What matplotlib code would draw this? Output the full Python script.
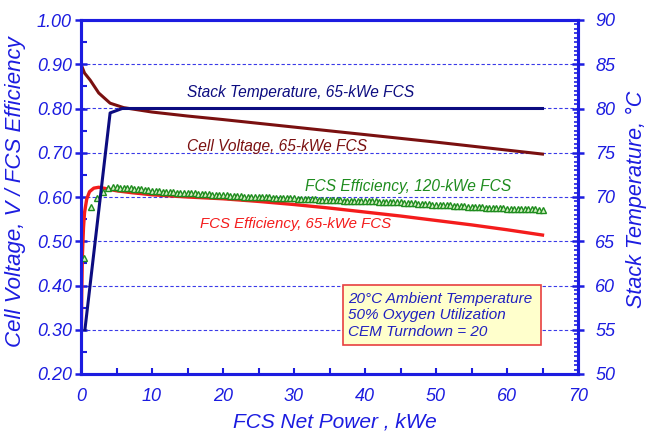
import matplotlib.pyplot as plt
from matplotlib.patches import Rectangle
from matplotlib.ticker import MultipleLocator
import numpy as np

plt.rcParams['font.family'] = ['Liberation Sans', 'DejaVu Sans']
plt.rcParams['font.style'] = 'italic'

BLUE = '#1c1ce0'

# stack temperature, 65-kWe FCS (right axis, degC)
temp_kw = [0.55, 4.1, 5.8, 65]
temp_c = [55, 79.5, 80, 80]

# cell voltage, 65-kWe FCS
volt_kw = [0, 0.5, 1.3, 2.5, 4.1, 6, 10, 15, 20, 30, 40, 50, 60, 65]
volt_v = [0.900, 0.880, 0.864, 0.835, 0.812, 0.802, 0.792, 0.783, 0.775,
          0.758, 0.741, 0.724, 0.706, 0.697]

# FCS efficiency, 65-kWe FCS
eff65_kw = [0, 0.1, 0.2, 0.35, 0.5, 0.8, 1.2, 1.8, 2.5, 3.5, 5, 7, 10, 15,
            20, 25, 30, 35, 40, 45, 50, 55, 60, 65]
eff65 = [0.200, 0.380, 0.470, 0.530, 0.565, 0.595, 0.612, 0.620, 0.622,
         0.619, 0.614, 0.610, 0.605, 0.600, 0.596, 0.590, 0.583, 0.575,
         0.566, 0.557, 0.547, 0.537, 0.526, 0.514]

# FCS efficiency, 120-kWe FCS
eff120_kw = np.concatenate([[0.4, 1.4, 2.2, 3.1, 3.8], np.arange(4.5, 65.01, 0.5)])
eff120 = [0.462, 0.577, 0.598, 0.611, 0.620,
          0.622, 0.622, 0.621, 0.621, 0.620, 0.620,
          0.619, 0.618, 0.617, 0.616, 0.615, 0.614,
          0.613, 0.613, 0.612, 0.612, 0.611, 0.611, 0.610, 0.610, 0.609, 0.609,
          0.608, 0.608, 0.607, 0.607, 0.606, 0.606, 0.605, 0.605, 0.604, 0.604,
          0.604, 0.603, 0.603, 0.602, 0.602, 0.601, 0.601, 0.600, 0.600, 0.600,
          0.599, 0.599, 0.599, 0.598, 0.598, 0.598, 0.597, 0.597, 0.597, 0.597,
          0.596, 0.596, 0.596, 0.595, 0.595, 0.595, 0.594, 0.594, 0.594, 0.594,
          0.593, 0.593, 0.593, 0.592, 0.592, 0.592, 0.591, 0.591, 0.591, 0.591,
          0.590, 0.590, 0.590, 0.589, 0.589, 0.589, 0.588, 0.588, 0.588, 0.588,
          0.587, 0.587, 0.586, 0.586, 0.585, 0.585, 0.584, 0.584, 0.583, 0.583,
          0.582, 0.582, 0.581, 0.581, 0.580, 0.580, 0.579, 0.579, 0.578, 0.578,
          0.577, 0.577, 0.577, 0.576, 0.576, 0.576, 0.575, 0.575, 0.575, 0.574,
          0.574, 0.574, 0.573, 0.573, 0.573, 0.572, 0.572, 0.572, 0.571, 0.571]

fig = plt.figure(figsize=(6.48, 4.37), dpi=100)
ax = fig.add_axes([81/648, 1 - 374/437, (578 - 81)/648, (374 - 20)/437])
ax2 = ax.twinx()

ax.set_xlim(0, 70)
ax.set_ylim(0.2, 1.0)
ax2.set_ylim(50, 90)

for a in (ax, ax2):
    for s in a.spines.values():
        s.set_color(BLUE)
        s.set_linewidth(2.2)

ax.yaxis.set_major_locator(MultipleLocator(0.1))
ax.yaxis.set_minor_locator(MultipleLocator(0.05))
ax.xaxis.set_major_locator(MultipleLocator(10))
ax.xaxis.set_minor_locator(MultipleLocator(5))
ax2.yaxis.set_major_locator(MultipleLocator(5))
ax2.yaxis.set_minor_locator(MultipleLocator(0.5))
ax.yaxis.set_major_formatter(lambda v, p: f'{v:.2f}')

ax.tick_params(axis='y', which='major', direction='inout', length=9, width=1.8,
               color=BLUE, labelcolor=BLUE, labelsize=13, pad=2)
ax.tick_params(axis='y', which='minor', direction='in', length=4, width=1.5, color=BLUE)
ax.tick_params(axis='x', which='both', direction='in', length=4, width=1.5,
               color=BLUE, labelcolor=BLUE, labelsize=13, pad=10)
ax2.tick_params(axis='y', which='major', direction='inout', length=9, width=1.8,
                color=BLUE, labelcolor=BLUE, labelsize=13, pad=8)
ax2.tick_params(axis='y', which='minor', direction='in', length=3, width=1.2, color=BLUE)

for g in np.arange(0.3, 0.95, 0.1):
    ax.axhline(g, color='#3a3ae8', lw=0.8, ls=(0, (3, 2)), zorder=1)

ax.plot(eff65_kw, eff65, color='#f41c1c', lw=2.4, zorder=3)
ax.plot(eff120_kw, eff120, ls='none', marker='^', ms=5, mfc='#d6f0c4',
        mec='#1e8c1e', mew=1.0, zorder=4)
ax.plot(volt_kw, volt_v, color='#7a1010', lw=2.2, zorder=5)
ax2.plot(temp_kw, temp_c, color='#0c0c80', lw=2.2, zorder=6)

note = dict(fontsize=11.2, va='center')
ax.text(14.9, 0.836, 'Stack Temperature, 65-kWe FCS', color='#0c0c80', **note)
ax.text(14.9, 0.713, 'Cell Voltage, 65-kWe FCS', color='#7a1010', **note)
ax.text(31.5, 0.623, 'FCS Efficiency, 120-kWe FCS', color='#1e8c1e', **note)
ax.text(16.8, 0.538, 'FCS Efficiency, 65-kWe FCS', color='#f41c1c', fontsize=10.8, va='center')

ax.add_patch(Rectangle((36.9, 0.265), 27.9, 0.136, facecolor='#ffffcc',
                       edgecolor='#e84040', lw=1.2, zorder=7))
ax.text(37.6, 0.3325, '20\u00b0C Ambient Temperature\n50% Oxygen Utilization\nCEM Turndown = 20',
        color='#2020c0', fontsize=11, va='center', linespacing=1.25, zorder=8)

fig.text(16/648, 1 - 192/437, 'Cell Voltage, V / FCS Efficiency', color=BLUE,
         fontsize=16, rotation=90, ha='center', va='center')
fig.text(647/648, 1 - 199/437, 'Stack Temperature, \u00b0C', color=BLUE,
         fontsize=15.5, rotation=90, ha='right', va='center')
fig.text(335/648, 1 - 422/437, 'FCS Net Power , kWe', color=BLUE,
         fontsize=15, ha='center', va='center')

fig.savefig('out.png', dpi=100)
